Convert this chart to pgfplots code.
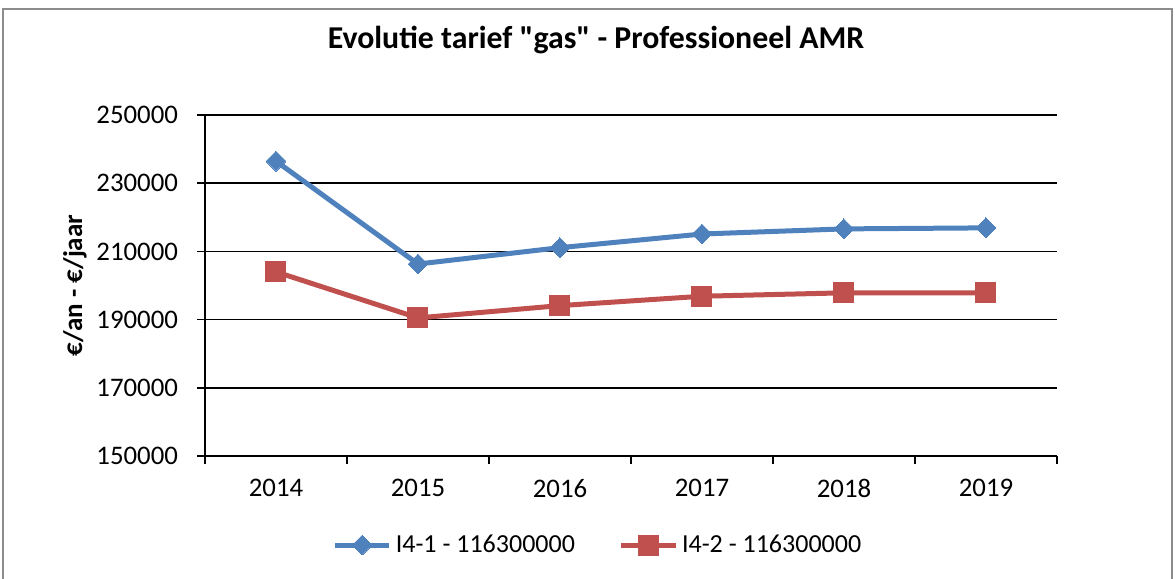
\documentclass[border=0pt]{standalone}
\usepackage{pgfplots}
\pgfplotsset{compat=1.18}
\usepackage{fontspec}
\setmainfont{Carlito}
\newcommand\dq{\XeTeXglyph\XeTeXcharglyph34\relax}
\definecolor{exblue}{HTML}{4F81BD}
\definecolor{exred}{HTML}{C0504D}
\begin{document}
\begin{tikzpicture}
\useasboundingbox (0,0) rectangle (587.5pt,289.5pt);
\draw[color=black!45, line width=0.75pt] (1.5pt,-5pt) rectangle (586pt,285pt);
\begin{axis}[
  at={(102.5pt,61.5pt)}, anchor=south west,
  scale only axis, width=426pt, height=170.5pt,
  xmin=-0.5, xmax=5.5, ymin=150000, ymax=250000,
  axis x line*=bottom, axis y line*=left,
  axis line style={line width=0.75pt, black, -},
  xtick={0,1,2,3,4,5},
  xticklabels={2014,2015,2016,2017,2018,2019},
  major x tick style={draw=none},
  minor xtick={-0.5,0.5,1.5,2.5,3.5,4.5,5.5},
  minor x tick style={line width=0.75pt, black},
  minor tick length=4pt,
  ytick={150000,170000,190000,210000,230000,250000},
  major tick length=4pt,
  tick align=outside,
  y tick style={line width=0.75pt, black},
  ymajorgrids, major grid style={line width=0.75pt, black},
  /pgf/number format/assume math mode=true,
  /pgf/number format/fixed, /pgf/number format/1000 sep={},
  scaled y ticks=false,
  tick label style={font=\fontsize{13.4}{16}\selectfont},
  xticklabel style={yshift=-4pt},
  yticklabel style={xshift=-6pt},
  ylabel={€/an - €/jaar},
  ylabel style={font=\fontsize{13.5}{16}\selectfont\bfseries, at={(axis description cs:-0.1526,0.5)}, anchor=center},
  title={Evolutie tarief \dq gas\dq{} - Professioneel AMR},
  title style={font=\fontsize{15.9}{19}\selectfont\bfseries, at={(axis description cs:0.459,1.185)}, anchor=center},
  legend columns=2,
  legend style={draw=none, at={(axis description cs:0.4624,-0.261)}, anchor=center, font=\fontsize{13}{15}\selectfont, /tikz/every even column/.append style={column sep=20pt}},
  legend image code/.code={\draw[mark repeat=2,mark phase=2,#1] plot coordinates {(0cm,0cm)(0.475cm,0cm)(0.95cm,0cm)};},
]
\addplot[color=exblue, line width=2.5pt, mark=square*, mark size=3.5pt, mark options={rotate=45, line width=0pt}]
  coordinates {(0,236470) (1,206300) (2,211100) (3,215100) (4,216600) (5,216900)};
\addlegendentry{I4-1 - 116300000}
\addplot[color=exred, line width=2.5pt, mark=square*, mark size=5pt, mark options={line width=0pt}]
  coordinates {(0,204000) (1,190500) (2,194100) (3,196850) (4,197850) (5,197850)};
\addlegendentry{I4-2 - 116300000}
\end{axis}
\end{tikzpicture}
\end{document}
